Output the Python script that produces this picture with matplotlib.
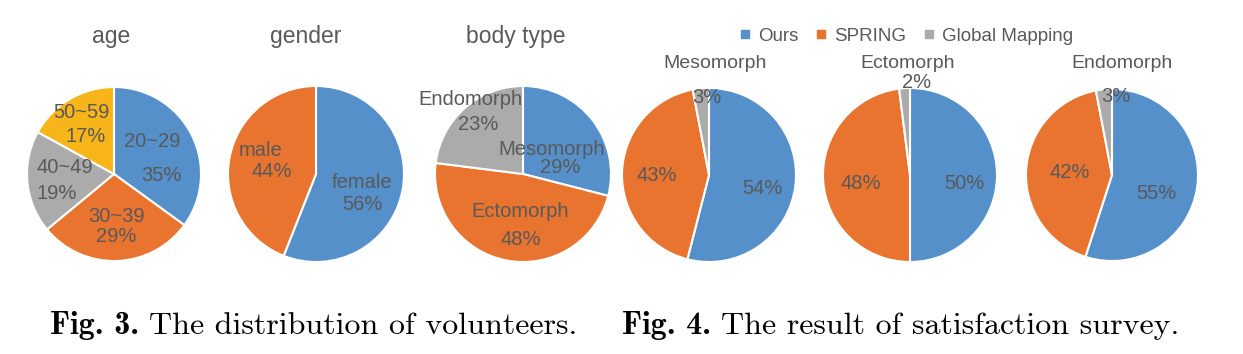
import os
import matplotlib
matplotlib.use('Agg')
import matplotlib.pyplot as plt
from matplotlib import font_manager
from matplotlib.lines import Line2D

plt.rcParams['font.family'] = ['Liberation Sans', 'DejaVu Sans']

# Computer Modern fonts that ship with matplotlib, for the LaTeX-like captions
ttf_dir = os.path.join(matplotlib.get_data_path(), 'fonts', 'ttf')
for f in ['cmr10.ttf', 'cmb10.ttf']:
    font_manager.fontManager.addfont(os.path.join(ttf_dir, f))

# Fig. 3 data
age_labels = ['20~29', '30~39', '40~49', '50~59']
age_values = [35, 29, 19, 17]
gender_labels = ['female', 'male']
gender_values = [56, 44]
body_labels = ['Mesomorph', 'Ectomorph', 'Endomorph']
body_values = [29, 48, 23]

# Fig. 4 data (Ours, SPRING, Global Mapping)
methods = ['Ours', 'SPRING', 'Global Mapping']
meso_values = [54, 43, 3]
ecto_values = [50, 48, 2]
endo_values = [55, 42, 3]

blue = '#5590CA'
orange = '#E8742F'
gray = '#ABABAB'
yellow = '#F8B51A'
txt = '#595959'

W, H = 1243, 354
fig = plt.figure(figsize=(W / 100, H / 100), dpi=100)


def pie_axes(cx, cy, r):
    return fig.add_axes([(cx - r) / W, (H - cy - r) / H, 2 * r / W, 2 * r / H])


def draw_pie(cx, cy, r, values, colors, labels):
    ax = pie_axes(cx, cy, r)
    ax.pie(values, colors=colors, startangle=90, counterclock=False, radius=1,
           wedgeprops=dict(edgecolor='white', linewidth=1.5))
    ax.set_xlim(-1, 1)
    ax.set_ylim(-1, 1)
    ax.set_aspect('equal')
    ax.axis('off')
    for s, (x, y) in labels:
        ax.text(x, y, s, ha='center', va='center', fontsize=14.5, color=txt, clip_on=False)
    return ax


# label positions in radius units
draw_pie(114, 174, 87, age_values, [blue, orange, gray, yellow], [
    (age_labels[0], (0.44, 0.37)), (f'{age_values[0]}%', (0.54, -0.02)),
    (age_labels[1], (0.03, -0.49)), (f'{age_values[1]}%', (0.02, -0.72)),
    (age_labels[2], (-0.56, 0.07)), (f'{age_values[2]}%', (-0.66, -0.22)),
    (age_labels[3], (-0.38, 0.71)), (f'{age_values[3]}%', (-0.33, 0.43)),
])
draw_pie(316, 174, 88, gender_values, [blue, orange], [
    (gender_labels[0], (0.52, -0.10)), (f'{gender_values[0]}%', (0.53, -0.35)),
    (gender_labels[1], (-0.63, 0.27)), (f'{gender_values[1]}%', (-0.50, 0.03)),
])
draw_pie(523, 174, 88, body_values, [blue, orange, gray], [
    (body_labels[0], (0.33, 0.28)), (f'{body_values[0]}%', (0.42, 0.07)),
    (body_labels[1], (-0.03, -0.43)), (f'{body_values[1]}%', (-0.03, -0.75)),
    (body_labels[2], (-0.60, 0.85)), (f'{body_values[2]}%', (-0.51, 0.56)),
])

fig4_cols = [blue, orange, gray]
draw_pie(709, 175, 87, meso_values, fig4_cols, [
    (f'{meso_values[0]}%', (0.61, -0.15)), (f'{meso_values[1]}%', (-0.60, -0.01)),
    (f'{meso_values[2]}%', (-0.02, 0.89)),
])
draw_pie(910, 175, 87, ecto_values, fig4_cols, [
    (f'{ecto_values[0]}%', (0.62, -0.10)), (f'{ecto_values[1]}%', (-0.57, -0.10)),
    (f'{ecto_values[2]}%', (0.07, 1.06)),
])
draw_pie(1112, 175, 86, endo_values, fig4_cols, [
    (f'{endo_values[0]}%', (0.52, -0.21)), (f'{endo_values[1]}%', (-0.49, 0.03)),
    (f'{endo_values[2]}%', (0.04, 0.91)),
])

# titles
for s, x in [('age', 111), ('gender', 306), ('body type', 516)]:
    fig.text(x / W, 1 - 36 / H, s, ha='center', va='center', fontsize=16.5, color=txt)
for s, x in [('Mesomorph', 715), ('Ectomorph', 908), ('Endomorph', 1122)]:
    fig.text(x / W, 1 - 63 / H, s, ha='center', va='center', fontsize=14, color=txt)

handles = [Line2D([], [], marker='s', linestyle='none', markersize=6,
                  markerfacecolor=c, markeredgecolor=c) for c in fig4_cols]
fig.legend(handles, methods, loc='center', bbox_to_anchor=(906 / W, 1 - 36 / H),
           ncol=3, frameon=False, fontsize=13.5, labelcolor=txt,
           handlelength=0.6, handletextpad=0.4, columnspacing=0.9)

# captions: bold "Fig. n." followed by regular text
for x, head, body in [(50, 'Fig. 3.', 'The distribution of volunteers.'),
                      (622, 'Fig. 4.', 'The result of satisfaction survey.')]:
    t = fig.text(x / W, 1 - 334 / H, head, ha='left', va='baseline',
                 fontsize=23, family='cmb10', color='black')
    fig.add_artist(matplotlib.text.Annotation(
        body, xy=(1, 0), xycoords=t, xytext=(7, 0), textcoords='offset points',
        ha='left', va='bottom', fontsize=23, family='cmr10', color='black',
        annotation_clip=False))

fig.savefig('out.png', dpi=100, facecolor='white')
